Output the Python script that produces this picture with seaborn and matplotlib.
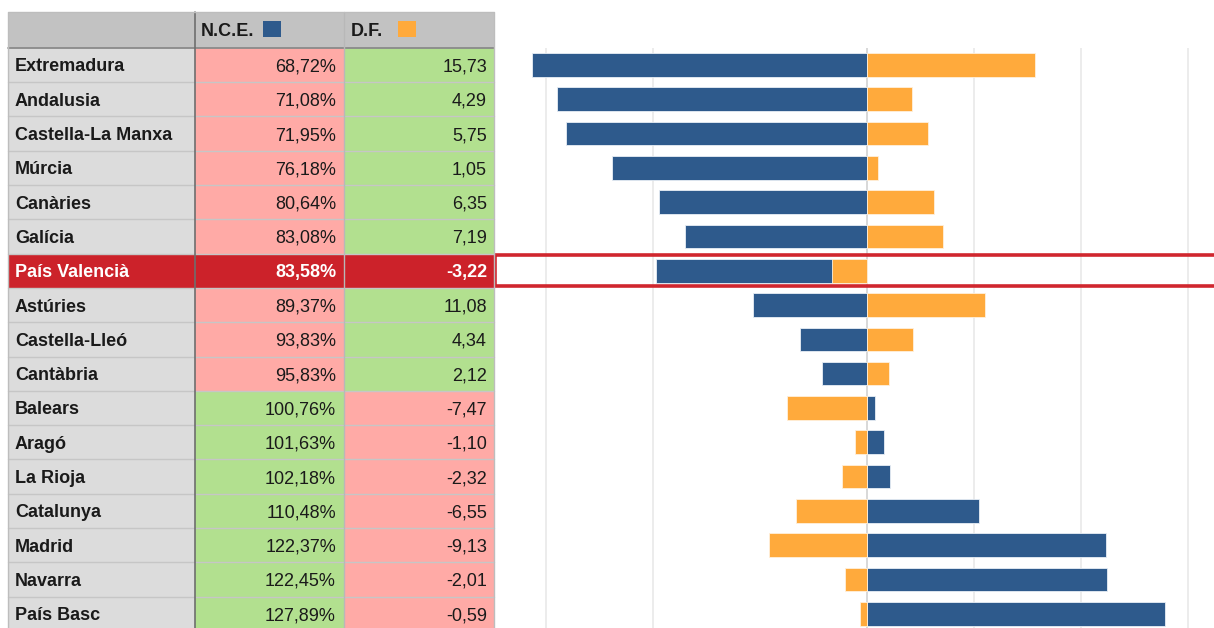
import numpy as np
import pandas as pd
import matplotlib
matplotlib.use("Agg")
import matplotlib.pyplot as plt
from matplotlib.patches import Rectangle
import seaborn as sns

# ---------------- data ----------------
regions = ["Extremadura", "Andalusia", "Castella-La Manxa", "Múrcia", "Canàries",
           "Galícia", "País Valencià", "Astúries", "Castella-Lleó", "Cantàbria",
           "Balears", "Aragó", "La Rioja", "Catalunya", "Madrid", "Navarra", "País Basc"]
nce = [68.72, 71.08, 71.95, 76.18, 80.64, 83.08, 83.58, 89.37, 93.83, 95.83,
       100.76, 101.63, 102.18, 110.48, 122.37, 122.45, 127.89]
df_vals = [15.73, 4.29, 5.75, 1.05, 6.35, 7.19, -3.22, 11.08, 4.34, 2.12,
           -7.47, -1.10, -2.32, -6.55, -9.13, -2.01, -0.59]
highlight = "País Valencià"
col_headers = ["N.C.E.", "D.F."]
grid_values = [-30, -20, 0, 10, 20, 30]

# ---------------- style ----------------
sns.set_theme(style="white")
plt.rcParams['font.family'] = ['Liberation Sans', 'DejaVu Sans']

BLUE = "#2e5a8c"
ORANGE = "#ffaa3c"
RED_CELL = "#ffaaa6"
GREEN_CELL = "#b2e08f"
NAME_CELL = "#dcdcdc"
HEADER = "#c2c2c2"
HL = "#cc222a"
FS = 13
BASE_OFF = 6.5  # baseline offset below row centre (px)

W, H = 1214, 628
fig = plt.figure(figsize=(W / 100, H / 100), dpi=100)

# geometry (pixels)
row_top = 47.8
n = len(regions)
row_h = 34.3
bar_left_px = 497
bottom_px = row_top + n * row_h

# ---------------- bar chart ----------------
ax = fig.add_axes([bar_left_px / W, (H - bottom_px) / H, (W - bar_left_px) / W, (n * row_h) / H])
ax.set_facecolor("none")

nce_dev = np.array(nce) - 100.0
dfa = np.array(df_vals)
same_sign = np.sign(nce_dev) == np.sign(dfa)
blue_total = nce_dev + np.where(same_sign, dfa, 0.0)

data = pd.DataFrame({"region": regions, "nce_stack": blue_total, "df": dfa})

sns.barplot(data=data, x="nce_stack", y="region", orient="h", color=BLUE,
            saturation=1, width=0.69, edgecolor="#e8eef5", linewidth=0.6, ax=ax, zorder=3)
sns.barplot(data=data, x="df", y="region", orient="h", color=ORANGE,
            saturation=1, width=0.69, edgecolor="#fff0dc", linewidth=0.6, ax=ax, zorder=4)

px_per_unit = 10.7
zero_px = 866.5
ax.set_xlim((bar_left_px - zero_px) / px_per_unit, (W - zero_px) / px_per_unit)
ax.set_ylim(n - 0.5, -0.5)
for v in grid_values:
    ax.axvline(v, color="#d2d2d2" if v == 0 else "#e9e9e9", lw=1.2, zorder=1)
ax.set_xlabel("")
ax.set_ylabel("")
ax.set_xticks([])
ax.set_yticks([])
for s in ax.spines.values():
    s.set_visible(False)

# ---------------- table overlay ----------------
ov = fig.add_axes([0, 0, 1, 1])
ov.set_xlim(0, W)
ov.set_ylim(H, 0)
ov.axis("off")
ov.patch.set_alpha(0)

x0, x1, x2, x3 = 8, 195, 344, 494
top = 12

# header
ov.add_patch(Rectangle((x0, top), x3 - x0, row_top - top, facecolor=HEADER, edgecolor="none"))
ov.text(201, 29.5 + BASE_OFF, col_headers[0], fontsize=FS, fontweight="bold",
        color="#1a1a1a", va="baseline", ha="left")
ov.add_patch(Rectangle((263, 21), 18, 16, facecolor=BLUE, edgecolor="none"))
ov.text(351, 29.5 + BASE_OFF, col_headers[1], fontsize=FS, fontweight="bold",
        color="#1a1a1a", va="baseline", ha="left")
ov.add_patch(Rectangle((398, 21), 18, 16, facecolor=ORANGE, edgecolor="none"))


def fmt(v, pct=False):
    s = f"{v:.2f}".replace(".", ",")
    return s + "%" if pct else s


for i, (name, a, b) in enumerate(zip(regions, nce, df_vals)):
    y = row_top + i * row_h
    yb = y + row_h / 2 + BASE_OFF
    is_hl = name == highlight
    c_name = HL if is_hl else NAME_CELL
    c_a = HL if is_hl else (RED_CELL if a < 100 else GREEN_CELL)
    c_b = HL if is_hl else (GREEN_CELL if b > 0 else RED_CELL)
    txt = "white" if is_hl else "#1a1a1a"
    ov.add_patch(Rectangle((x0, y), x1 - x0, row_h, facecolor=c_name, edgecolor="none"))
    ov.add_patch(Rectangle((x1, y), x2 - x1, row_h, facecolor=c_a, edgecolor="none"))
    ov.add_patch(Rectangle((x2, y), x3 - x2, row_h, facecolor=c_b, edgecolor="none"))
    ov.text(15, yb, name, fontsize=FS, fontweight="bold", color=txt, va="baseline", ha="left")
    ov.text(336, yb, fmt(a, True), fontsize=FS, fontweight="bold" if is_hl else "normal",
            color=txt, va="baseline", ha="right")
    ov.text(487, yb, fmt(b), fontsize=FS, fontweight="bold" if is_hl else "normal",
            color=txt, va="baseline", ha="right")
    if i > 0:
        ov.plot([x0, x3], [y, y], color="#c6c6c6", lw=1.0)
    if is_hl:
        ov.add_patch(Rectangle((x3 + 1, y + 1.5), W - x3 + 10, row_h - 3, facecolor="none",
                               edgecolor="#d0262e", lw=2.6, clip_on=False))

# grid borders
ov.plot([x0, x3], [row_top, row_top], color="#8a8a8a", lw=1.3)
ov.plot([x1, x1], [top, H], color="#6e6e6e", lw=1.2)
ov.plot([x2, x2], [top, H], color="#b8b8b8", lw=1.0)
ov.plot([x0, x0, x3, x3], [H, top, top, H], color="#bdbdbd", lw=1.0)

fig.savefig("out.png", dpi=100)
